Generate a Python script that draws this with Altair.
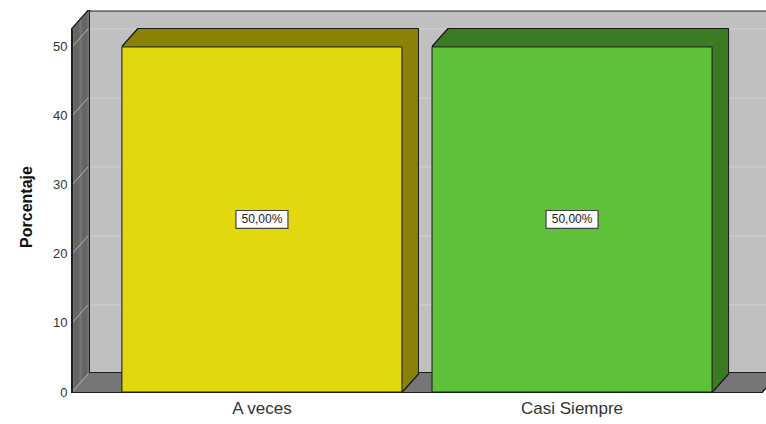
import altair as alt
import pandas as pd

# ---- data ----
categories = ["A veces", "Casi Siempre"]
values = [50.0, 50.0]
value_labels = ["50,00%", "50,00%"]
y_ticks = [0, 10, 20, 30, 40, 50]

# ---- style / layout constants ----
front_colors = ["#e3d70f", "#5dc23a"]
side_colors = ["#8b8208", "#3b7b23"]
WALL = "#767676"
BACKWALL = "#c0c0c0"
EDGE = "#1e1e1e"
FONT = "Liberation Sans"

W, H = 690, 363
DX, DY = 16, 18
STEPS = 18
Y_MAX = 52.6

bars = pd.DataFrame({"cat": categories, "value": values, "label": value_labels})
bars["mid"] = bars["value"] / 2
ticks = pd.DataFrame({"t": y_ticks})
one = pd.DataFrame({"k": [0]})

x_scale = alt.Scale(domain=categories, paddingInner=0.097, paddingOuter=0.161)
y_scale = alt.Scale(domain=[0, Y_MAX], nice=False, zero=True)

x_axis = alt.Axis(
    title=None, labelAngle=0, ticks=False, domain=True, domainColor=EDGE, grid=False,
    labelFont=FONT, labelFontSize=17, labelColor="#333333", labelPadding=8, zindex=1,
)
y_axis = alt.Axis(
    values=y_ticks, title="Porcentaje", grid=False, ticks=False, domain=True,
    domainColor=EDGE, labelFont=FONT, labelFontSize=13, labelColor="#333333",
    labelPadding=5, titleFont=FONT, titleFontSize=16, titleFontWeight="bold",
    titleColor="#111111", titleX=-38, titleY=H / 2 - 4, titleAngle=270,
    titleBaseline="bottom", titleAlign="center", zindex=1,
)


def X(f):
    return alt.X(f, scale=x_scale, axis=x_axis)


def Y(f):
    return alt.Y(f, scale=y_scale, axis=y_axis)


def offs(i):
    ox, oy = i * DX / STEPS, -i * DY / STEPS
    return dict(xOffset=ox, x2Offset=ox, yOffset=oy, y2Offset=oy)


layers = []

# back wall
layers.append(
    alt.Chart(one).mark_rect(fill=BACKWALL, stroke=EDGE, strokeWidth=1, **offs(STEPS)).encode(
        x=alt.value(0), x2=alt.value(W), y=alt.value(0), y2=alt.value(H)
    )
)
# back wall gridlines
layers.append(
    alt.Chart(ticks).mark_rule(color="#d2d2d2", strokeWidth=1, **offs(STEPS)).encode(
        y=Y("t:Q"), x=alt.value(0), x2=alt.value(W)
    )
)

# left wall + floor (extruded), halo pass then fill pass
for halo in (True, False):
    for i in range(STEPS, -1, -1):
        if halo:
            mk = dict(color=EDGE, stroke=EDGE, strokeWidth=2)
        else:
            mk = dict(color=WALL, strokeWidth=0)
        layers.append(
            alt.Chart(one).mark_rect(**mk, **offs(i)).encode(
                x=alt.value(0), x2=alt.value(1), y=alt.value(0), y2=alt.value(H)
            )
        )
        layers.append(
            alt.Chart(one).mark_rect(**mk, **offs(i)).encode(
                x=alt.value(0), x2=alt.value(W), y=alt.value(H - 1), y2=alt.value(H)
            )
        )

# diagonal gridlines on left wall
layers.append(
    alt.Chart(ticks).mark_rule(color="#b4b4b4", strokeWidth=1, y2Offset=-DY).encode(
        x=alt.value(0), x2=alt.value(DX), y=Y("t:Q"), y2="t:Q"
    )
)

# bars: extruded 3D body
for halo in (True, False):
    for i in range(STEPS, 0, -1):
        if halo:
            mark = alt.Chart(bars).mark_bar(color=EDGE, stroke=EDGE, strokeWidth=2, **offs(i))
            enc = {}
        else:
            mark = alt.Chart(bars).mark_bar(strokeWidth=0, **offs(i))
            enc = dict(color=alt.Color("cat:N", scale=alt.Scale(domain=categories, range=side_colors), legend=None))
        layers.append(mark.encode(x=X("cat:N"), y=Y("value:Q"), **enc))

# front faces
layers.append(
    alt.Chart(bars).mark_bar(stroke=EDGE, strokeWidth=1).encode(
        x=X("cat:N"), y=Y("value:Q"),
        fill=alt.Fill("cat:N", scale=alt.Scale(domain=categories, range=front_colors), legend=None),
    )
)

# value label boxes and text
layers.append(
    alt.Chart(bars).mark_point(
        shape="M-1,-0.346H1V0.346H-1Z", size=2704, filled=True, fill="white",
        stroke="#444444", strokeWidth=1.2, opacity=1,
    ).encode(x=X("cat:N"), y=Y("mid:Q"))
)
layers.append(
    alt.Chart(bars).mark_text(font=FONT, fontSize=12, color="#222222").encode(
        x=X("cat:N"), y=Y("mid:Q"), text="label:N"
    )
)

chart = (
    alt.layer(*layers)
    .properties(
        width=W, height=H, autosize="none",
        padding={"left": 72, "top": 29, "right": 4, "bottom": 32},
        background="white",
    )
    .configure_view(stroke=None)
    .configure(font=FONT)
)

chart.save("out.html", embed_options={"renderer": "svg", "actions": False})
